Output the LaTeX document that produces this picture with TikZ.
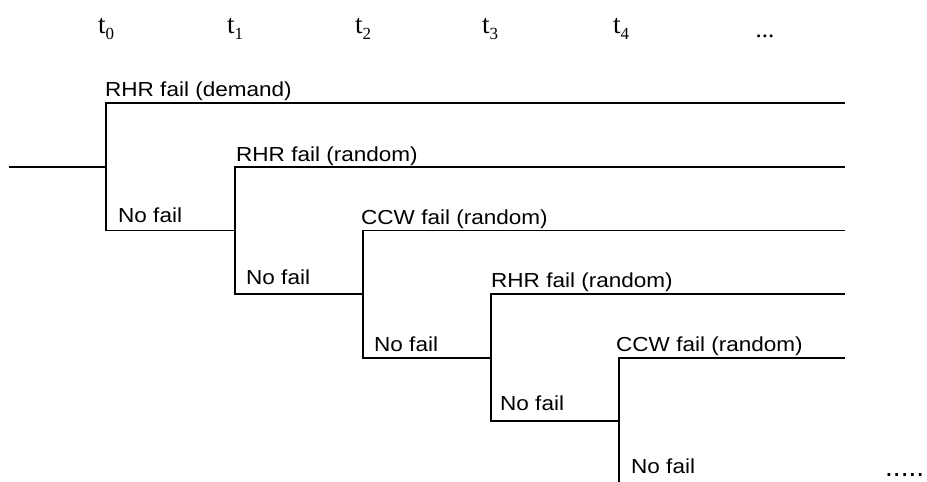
\documentclass[tikz,border=0pt]{standalone}
\usepackage{fontspec}
\newfontfamily\labfont[FakeStretch=1.11]{Liberation Sans}
\newfontfamily\dotfont{Liberation Sans}
\newfontfamily\timefont{Liberation Serif}
\newcommand{\tlab}[1]{\timefont\fontsize{27}{30}\selectfont t\raisebox{-6pt}{\fontsize{17}{20}\selectfont #1}}
\tikzset{
  branch/.style={line width=1.1pt, line cap=rect},
  lab/.style={anchor=base west, inner sep=0pt, font=\labfont\fontsize{20.3}{24}\selectfont},
  tmark/.style={anchor=base west, inner sep=0pt}
}
\begin{document}
\begin{tikzpicture}[x=1pt,y=-1pt]
\useasboundingbox (0,0) rectangle (927,482);
% branch points
\coordinate (s) at (10,167);
\coordinate (b0t) at (106,103);   \coordinate (b0m) at (106,167);   \coordinate (b0b) at (106,230.5);
\coordinate (b1t) at (235,167);   \coordinate (b1m) at (235,230.5); \coordinate (b1b) at (235,294);
\coordinate (b2t) at (363,230.5); \coordinate (b2m) at (363,294);   \coordinate (b2b) at (363,358);
\coordinate (b3t) at (491,294);   \coordinate (b3m) at (491,358);   \coordinate (b3b) at (491,421);
\coordinate (b4t) at (619,358);   \coordinate (b4m) at (619,421);   \coordinate (b4b) at (619,481);
\coordinate (e0) at (844,103);
\coordinate (e1) at (844,167);
\coordinate (e2) at (844,230.5);
\coordinate (e3) at (844,294);
\coordinate (e4) at (844,358);
% tree
\draw[branch] (s) -- (b0m);
\draw[branch] (e0) -- (b0t) -- (b0b) -- (b1m);
\draw[branch] (e1) -- (b1t) -- (b1b) -- (b2m);
\draw[branch] (e2) -- (b2t) -- (b2b) -- (b3m);
\draw[branch] (e3) -- (b3t) -- (b3b) -- (b4m);
\draw[branch] (e4) -- (b4t) -- (b4b);
% labels
\node[lab] (f0) at (105,96) {RHR fail (demand)};
\node[lab] (f1) at (236,161) {RHR fail (random)};
\node[lab] (f2) at (361,224) {CCW fail (random)};
\node[lab] (f3) at (491,287) {RHR fail (random)};
\node[lab] (f4) at (616,351) {CCW fail (random)};
\node[lab] (n0) at (118,222) {No fail};
\node[lab] (n1) at (246,284) {No fail};
\node[lab] (n2) at (374,351) {No fail};
\node[lab] (n3) at (500,410) {No fail};
\node[lab] (n4) at (631,473) {No fail};
% time marks
\node[tmark] (t0) at (98,33) {\tlab{0}};
\node[tmark] (t1) at (227,33) {\tlab{1}};
\node[tmark] (t2) at (355,33) {\tlab{2}};
\node[tmark] (t3) at (482,33) {\tlab{3}};
\node[tmark] (t4) at (613,33) {\tlab{4}};
\node[tmark, font=\timefont\fontsize{25}{28}\selectfont] (tdots) at (755.5,37) {...};
\node[tmark, font=\dotfont\fontsize{28}{32}\selectfont] (bdots) at (885,476) {.....};
\end{tikzpicture}
\end{document}
